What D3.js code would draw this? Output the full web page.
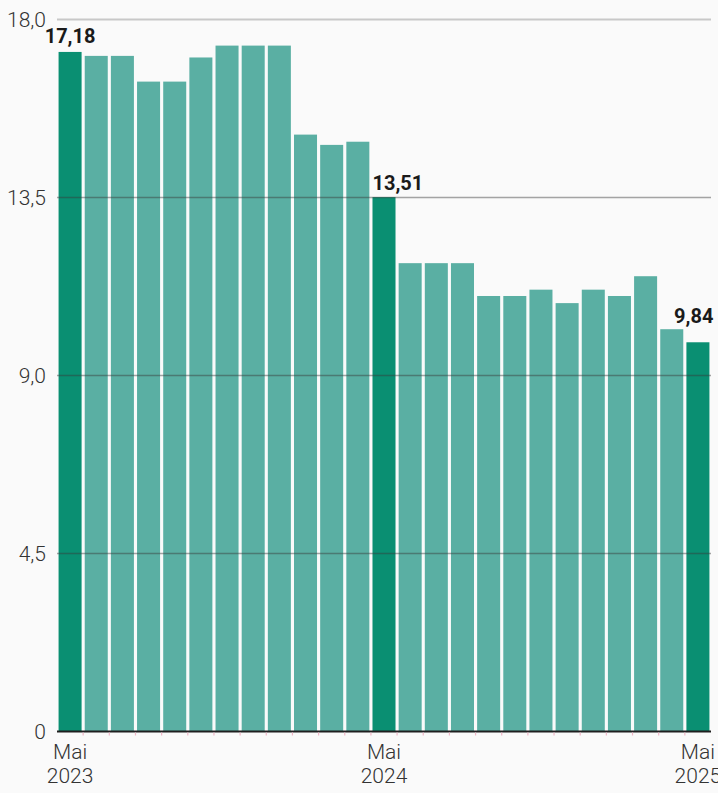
<!DOCTYPE html>
<html>
<head>
<meta charset="utf-8">
<script src="https://cdn.jsdelivr.net/npm/d3@7"></script>
<style>
  html, body { margin: 0; padding: 0; background: #fafafa; }
  svg { display: block; }
  .tick-label { font-family: Roboto, "Noto Sans", sans-serif; font-weight: 300; fill: #333; }
  .value-label { font-family: Roboto, "Noto Sans", sans-serif; font-weight: 700; fill: #1a1a1a; }
</style>
</head>
<body>
<svg id="chart" width="718" height="793"></svg>
<script>
// Monthly values, May 2023 – May 2025
const months = [
  "2023-05","2023-06","2023-07","2023-08","2023-09","2023-10","2023-11","2023-12",
  "2024-01","2024-02","2024-03","2024-04","2024-05","2024-06","2024-07","2024-08",
  "2024-09","2024-10","2024-11","2024-12","2025-01","2025-02","2025-03","2025-04","2025-05"
];
const values = [
  17.18, 17.08, 17.08, 16.43, 16.43, 17.04, 17.34, 17.34,
  17.34, 15.09, 14.83, 14.91, 13.51, 11.84, 11.84, 11.84,
  11.01, 11.01, 11.17, 10.83, 11.17, 11.01, 11.51, 10.17, 9.84
];
// Months drawn in the darker accent colour and labelled with their value
const highlighted = ["2023-05", "2024-05", "2025-05"];
const yTicks = [0, 4.5, 9, 13.5, 18];
const xTickLabels = [
  { month: "2023-05", lines: ["Mai", "2023"] },
  { month: "2024-05", lines: ["Mai", "2024"] },
  { month: "2025-05", lines: ["Mai", "2025"] }
];

const data = months.map((m, i) => ({ month: m, value: values[i], hl: highlighted.includes(m) }));

const svg = d3.select("#chart");
const fmt = v => d3.format(",.2f")(v).replace(".", ",");
const fmtTick = v => v === 0 ? "0" : d3.format(".1f")(v).replace(".", ",");

const x = d3.scaleBand().domain(months).range([57, 711]).paddingInner(0.12).paddingOuter(0.06);
const y = d3.scaleLinear().domain([0, 18]).range([731.5, 19.5]);

// top gridline sits behind everything
svg.append("line")
  .attr("x1", 57).attr("x2", 711)
  .attr("y1", y(18)).attr("y2", y(18))
  .attr("stroke", "#c8c8c8").attr("stroke-width", 2);

// bars
svg.append("g").selectAll("rect").data(data).join("rect")
  .attr("x", d => x(d.month))
  .attr("width", x.bandwidth())
  .attr("y", d => y(d.value))
  .attr("height", d => y(0) - y(d.value))
  .attr("fill", d => d.hl ? "#0a8f72" : "#5aafa3");

// inner gridlines drawn over the bars
svg.append("g").selectAll("line").data(yTicks.filter(t => t > 0 && t < 18)).join("line")
  .attr("x1", 57).attr("x2", 711)
  .attr("y1", d => y(d)).attr("y2", d => y(d))
  .attr("stroke", "#3a3a3a").attr("stroke-opacity", 0.45).attr("stroke-width", 1.5);

// baseline
svg.append("line")
  .attr("x1", 57).attr("x2", 711)
  .attr("y1", y(0)).attr("y2", y(0))
  .attr("stroke", "#1f1f1f").attr("stroke-width", 2);

// faint tick marks under the gaps between bars
svg.append("g").selectAll("line").data(months.slice(1)).join("line")
  .attr("x1", d => x(d) - x.step() * x.paddingInner() / 2)
  .attr("x2", d => x(d) - x.step() * x.paddingInner() / 2)
  .attr("y1", y(0) + 1).attr("y2", y(0) + 4)
  .attr("stroke", "#f0b8c8").attr("stroke-width", 1.2);

// y tick labels
svg.append("g").selectAll("text").data(yTicks).join("text")
  .attr("class", "tick-label")
  .attr("x", 46)
  .attr("y", d => y(d))
  .attr("dy", "0.36em")
  .attr("text-anchor", "end")
  .attr("font-size", 21)
  .text(fmtTick);

// x tick labels
const xl = svg.append("g").selectAll("text").data(xTickLabels).join("text")
  .attr("class", "tick-label")
  .attr("text-anchor", "middle")
  .attr("font-size", 21)
  .attr("x", d => x(d.month) + x.bandwidth() / 2);
xl.append("tspan").attr("x", d => x(d.month) + x.bandwidth() / 2).attr("y", 759).text(d => d.lines[0]);
xl.append("tspan").attr("x", d => x(d.month) + x.bandwidth() / 2).attr("y", 783).text(d => d.lines[1]);

// value labels for the highlighted months
const labelSpec = {
  "2023-05": { anchor: "middle", dx: b => b / 2, dy: -9 },
  "2024-05": { anchor: "start", dx: b => 0, dy: -7 },
  "2025-05": { anchor: "end", dx: b => b + 4, dy: -19 }
};
svg.append("g").selectAll("text").data(data.filter(d => d.hl)).join("text")
  .attr("class", "value-label")
  .attr("font-size", 20)
  .attr("text-anchor", d => labelSpec[d.month].anchor)
  .attr("x", d => x(d.month) + labelSpec[d.month].dx(x.bandwidth()))
  .attr("y", d => y(d.value) + labelSpec[d.month].dy)
  .text(d => fmt(d.value));
</script>
</body>
</html>
